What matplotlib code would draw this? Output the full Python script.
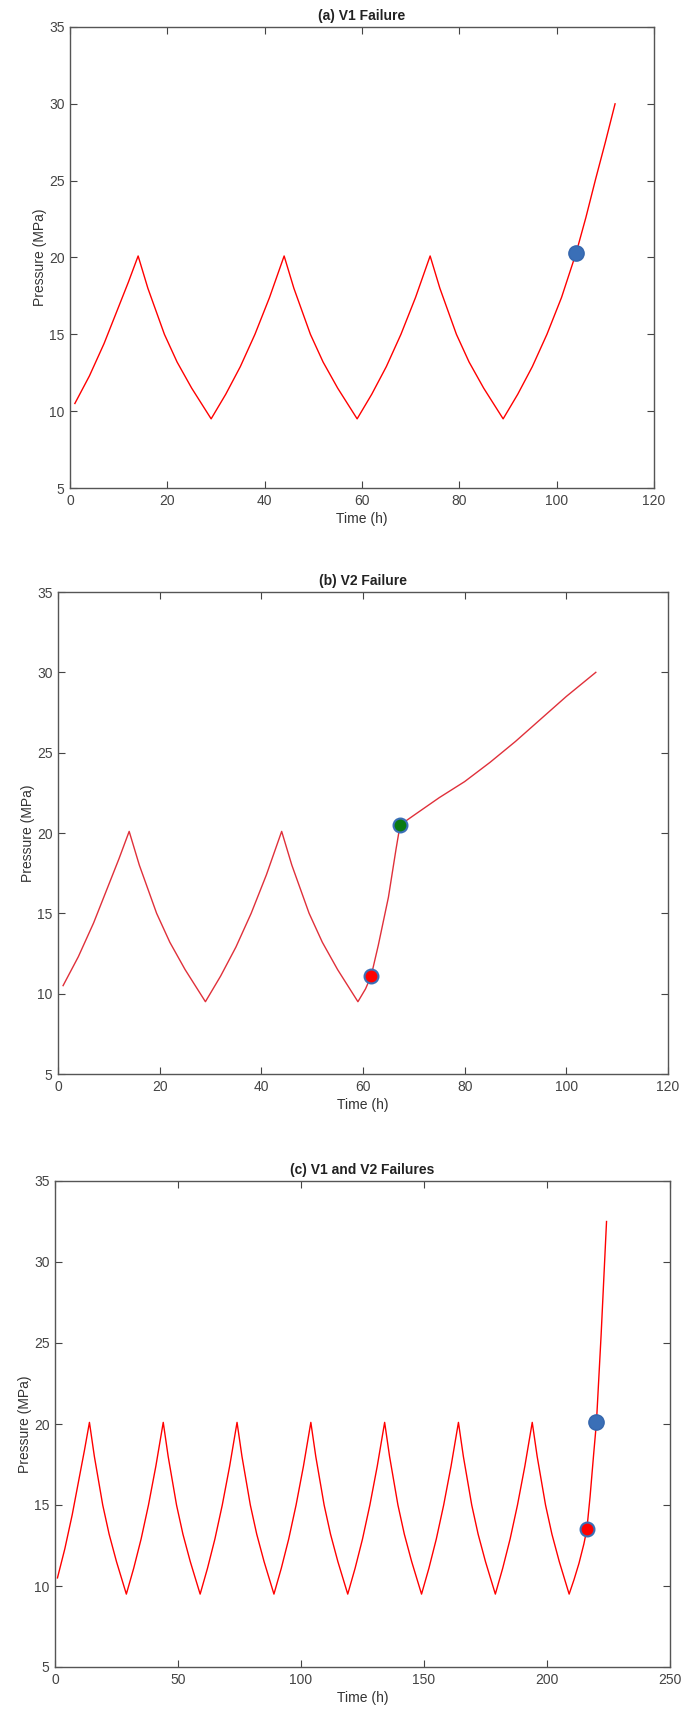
import matplotlib
matplotlib.use('Agg')
import matplotlib.pyplot as plt

plt.rcParams['font.family'] = ['Liberation Sans', 'DejaVu Sans']

# (a) V1 failure
t_a = [1, 4, 7, 10, 12, 14,
       16, 19.4, 22, 25, 29,
       32, 35, 38, 41, 44,
       46, 49.4, 52, 55, 59,
       62, 65, 68, 71, 74,
       76, 79.4, 82, 85, 89,
       92, 95, 98, 101, 104, 106, 108, 110, 112]
p_a = [10.5, 12.3, 14.4, 16.8, 18.4, 20.1,
       18.0, 15.0, 13.2, 11.5, 9.5,
       11.1, 12.9, 15.0, 17.4, 20.1,
       18.0, 15.0, 13.2, 11.5, 9.5,
       11.1, 12.9, 15.0, 17.4, 20.1,
       18.0, 15.0, 13.2, 11.5, 9.5,
       11.1, 12.9, 15.0, 17.4, 20.3, 22.6, 25.1, 27.5, 30.0]
v1_a = (104, 20.3)

# (b) V2 failure
t_b = [1, 4, 7, 10, 12, 14,
       16, 19.4, 22, 25, 29,
       32, 35, 38, 41, 44,
       46, 49.4, 52, 55, 59,
       60.5, 61.6, 63, 65, 66.5, 67.3,
       70, 75, 80, 85, 90, 95, 100, 105.8]
p_b = [10.5, 12.3, 14.4, 16.8, 18.4, 20.1,
       18.0, 15.0, 13.2, 11.5, 9.5,
       11.1, 12.9, 15.0, 17.4, 20.1,
       18.0, 15.0, 13.2, 11.5, 9.5,
       10.3, 11.1, 13.0, 16.0, 19.0, 20.5,
       21.1, 22.2, 23.2, 24.4, 25.7, 27.1, 28.5, 30.0]
v2_b = (61.6, 11.1)
v2b_b = (67.3, 20.5)

# (c) V1 and V2 failures
t_c = [1, 4, 7, 10, 12, 14,
       16, 19.4, 22, 25, 29, 32, 35, 38, 41, 44,
       46, 49.4, 52, 55, 59, 62, 65, 68, 71, 74,
       76, 79.4, 82, 85, 89, 92, 95, 98, 101, 104,
       106, 109.4, 112, 115, 119, 122, 125, 128, 131, 134,
       136, 139.4, 142, 145, 149, 152, 155, 158, 161, 164,
       166, 169.4, 172, 175, 179, 182, 185, 188, 191, 194,
       196, 199.4, 202, 205, 209,
       211, 213, 215, 216.2, 217.5, 219, 220.1, 222, 224.2]
p_c = [10.5, 12.3, 14.4, 16.8, 18.4, 20.1,
       18.0, 15.0, 13.2, 11.5, 9.5, 11.1, 12.9, 15.0, 17.4, 20.1,
       18.0, 15.0, 13.2, 11.5, 9.5, 11.1, 12.9, 15.0, 17.4, 20.1,
       18.0, 15.0, 13.2, 11.5, 9.5, 11.1, 12.9, 15.0, 17.4, 20.1,
       18.0, 15.0, 13.2, 11.5, 9.5, 11.1, 12.9, 15.0, 17.4, 20.1,
       18.0, 15.0, 13.2, 11.5, 9.5, 11.1, 12.9, 15.0, 17.4, 20.1,
       18.0, 15.0, 13.2, 11.5, 9.5, 11.1, 12.9, 15.0, 17.4, 20.1,
       18.0, 15.0, 13.2, 11.5, 9.5,
       10.4, 11.4, 12.6, 13.5, 15.5, 18.2, 20.1, 25.5, 32.5]
v2_c = (216.2, 13.5)
v1_c = (220.1, 20.1)

BLUE = '#3a6fb7'
EDGE = '#3566ad'

fig = plt.figure(figsize=(6.84, 17.09), dpi=100)
W, H = 684.0, 1709.0


def make_axes(l, t, r, b):
    return fig.add_axes([l / W, 1 - b / H, (r - l) / W, (b - t) / H])


def style(ax, title, xmax, xstep):
    ax.set_xlim(0, xmax)
    ax.set_ylim(5, 35)
    ax.set_xticks(range(0, xmax + 1, xstep))
    ax.set_yticks(range(5, 36, 5))
    ax.tick_params(direction='in', top=True, right=True, length=5, width=0.8,
                   color='#444444', labelcolor='#444444', labelsize=10, pad=4)
    for s in ax.spines.values():
        s.set_color('#555555')
        s.set_linewidth(1.0)
    ax.set_title(title, fontsize=10, fontweight='bold', color='#222222', pad=5)
    ax.set_xlabel('Time (h)', fontsize=10, color='#333333', labelpad=3)
    ax.set_ylabel('Pressure (MPa)', fontsize=10, color='#333333', labelpad=1)


ax1 = make_axes(70, 27, 654, 488)
ax1.plot(t_a, p_a, color='red', lw=1.0)
ax1.plot(*v1_a, 'o', ms=11, mfc=BLUE, mec=EDGE)
style(ax1, '(a) V1 Failure', 120, 20)

ax2 = make_axes(58, 592, 668, 1074)
ax2.plot(t_b, p_b, color='#e0303a', lw=1.0)
ax2.plot(*v2_b, 'o', ms=10, mfc='red', mec=BLUE, mew=1.5)
ax2.plot(*v2b_b, 'o', ms=10, mfc='#0a7a10', mec=BLUE, mew=1.5)
style(ax2, '(b) V2 Failure', 120, 20)

ax3 = make_axes(55, 1181, 670, 1667)
ax3.plot(t_c, p_c, color='red', lw=1.0)
ax3.plot(*v2_c, 'o', ms=10, mfc='red', mec=BLUE, mew=1.5)
ax3.plot(*v1_c, 'o', ms=11, mfc=BLUE, mec=EDGE)
style(ax3, '(c) V1 and V2 Failures', 250, 50)

fig.savefig('out.png', dpi=100)
